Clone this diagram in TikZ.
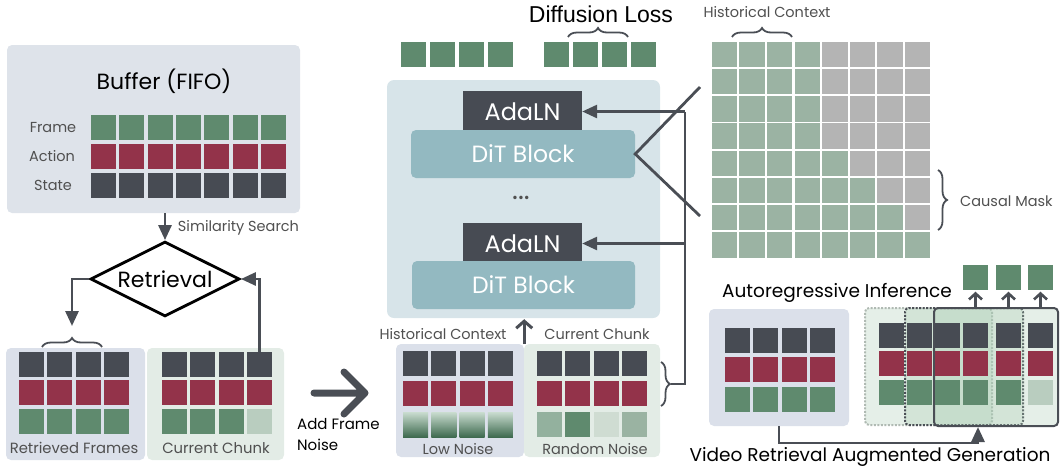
\documentclass[tikz,border=0pt]{standalone}
\usepackage{fontspec}
\setmainfont{Poppins}
\newfontfamily\lossfont{Liberation Sans}
\usetikzlibrary{shapes.geometric,arrows.meta,decorations.pathreplacing}
\definecolor{cframe}{HTML}{5F8A6E}
\definecolor{cact}{HTML}{93334A}
\definecolor{cstate}{HTML}{474B53}
\definecolor{cmask}{HTML}{9BB3A3}
\definecolor{cgray}{HTML}{B4B4B4}
\definecolor{cpale}{HTML}{B9CDBF}
\definecolor{cbuf}{HTML}{DEE3EA}
\definecolor{cret}{HTML}{DBE0EA}
\definecolor{ccur}{HTML}{E3ECE6}
\definecolor{cdit}{HTML}{D7E4E9}
\definecolor{cblock}{HTML}{93B9C1}
\definecolor{cwire}{HTML}{4A4E55}
\definecolor{clab}{HTML}{505050}
\definecolor{cgtop}{HTML}{CADDD0}
\definecolor{cgbot}{HTML}{3E6A4F}
\definecolor{crnA}{HTML}{93B19E}
\definecolor{crnB}{HTML}{CFDCD2}
\definecolor{crnC}{HTML}{9AB3A2}
\definecolor{cwin}{HTML}{A9CBB2}
\definecolor{cdotl}{HTML}{B0BAB3}
\begin{document}
\begin{tikzpicture}[x=1pt,y=-1pt]
    \useasboundingbox (0,0) rectangle (1060,469);
    \tikzstyle{tok}=[rectangle, minimum size=25pt, inner sep=0pt]
    \tikzstyle{cell}=[rectangle, minimum size=25.5pt, inner sep=0pt]
    \tikzstyle{panel}=[rectangle, rounded corners=5pt, inner sep=0pt]
    \tikzstyle{lab}=[text=clab, inner sep=0pt, font=\fontsize{14.5}{17}\selectfont]
    \tikzstyle{title}=[inner sep=0pt, font=\fontsize{22}{26}\selectfont]
    \tikzstyle{wire}=[draw=cwire, line width=2.8pt]
    \tikzstyle{arr}=[wire, -{Triangle[length=15pt,width=13pt]}]
    \tikzstyle{barb}=[wire, line width=2.6pt, -{Straight Barb[length=6pt,width=13pt]}]
    \tikzstyle{brc}=[draw=cwire, line width=1.8pt, decorate, decoration={brace, amplitude=9pt}]
    \tikzstyle{win}=[rectangle, rounded corners=4pt, minimum height=117pt, fill=cwin, fill opacity=0.3, line width=2pt]

    % buffer
    \node[panel, fill=cbuf, minimum width=293pt, minimum height=168pt] (N01) at (153.5,129) {};
    \node[title] (T01) at (164,81) {Buffer (FIFO)};
    \node[lab] (L01) at (53,127.5) {Frame};
    \node[lab] (L02) at (52,156.5) {Action};
    \node[lab] (L03) at (53,185.5) {State};
    \foreach \i in {0,...,6} {
        \node[tok, fill=cframe] (Bf\i) at (103.5+28.3*\i,127.5) {};
        \node[tok, fill=cact] (Ba\i) at (103.5+28.3*\i,156.5) {};
        \node[tok, fill=cstate] (Bs\i) at (103.5+28.3*\i,185.5) {};
    }

    % retrieval
    \node[diamond, draw, line width=2.8pt, aspect=2, inner sep=0pt, minimum width=149pt, minimum height=75pt, font=\fontsize{22}{26}\selectfont] (N02) at (165,279) {Retrieval};
    \draw[arr] (N02.north |- N01.south) -- (N02.north);
    \node[lab] (L04) at (238.5,228) {Similarity Search};

    % retrieved frames and current chunk
    \node[panel, fill=cret, minimum width=139pt, minimum height=112pt] (N03) at (75.5,404) {};
    \node[panel, fill=ccur, minimum width=137pt, minimum height=112pt] (N04) at (215.5,404) {};
    \foreach \i in {0,...,3} {
        \node[tok, fill=cstate] (Rs\i) at (31.5+28.3*\i,364.5) {};
        \node[tok, fill=cact] (Ra\i) at (31.5+28.3*\i,392.5) {};
        \node[tok, fill=cframe] (Rf\i) at (31.5+28.3*\i,421.5) {};
        \node[tok, fill=cstate] (Cs\i) at (174.5+28.3*\i,364.5) {};
        \node[tok, fill=cact] (Ca\i) at (174.5+28.3*\i,392.5) {};
    }
    \foreach \i in {0,...,2}
        \node[tok, fill=cframe] (Cf\i) at (174.5+28.3*\i,421.5) {};
    \node[tok, fill=cpale] (Cf3) at (259.4,421.5) {};
    \node[lab, font=\fontsize{14.8}{17}\selectfont] (L05) at (74,448) {Retrieved Frames};
    \node[lab, font=\fontsize{14.8}{17}\selectfont] (L06) at (216,448) {Current Chunk};
    \draw[brc] (42,347) -- (102,347);
    \coordinate (P01) at (72,326);
    \draw[arr] (N02.west) -| (P01);
    \draw[arr] (Cs3.north) |- (N02.east);

    % add frame noise
    \coordinate (P02) at (314,393);
    \coordinate (P03) at (365,393);
    \draw[cwire, line width=7pt, line cap=round, line join=round] (P02) -- (P03) (344,372) -- (P03) -- (344,414);
    \node[align=left, anchor=north west, inner sep=0pt, font=\fontsize{15}{21}\selectfont] (L07) at (297,418) {Add Frame\\Noise};

    % noisy inputs
    \node[panel, fill=cret, minimum width=128pt, minimum height=113pt] (N05) at (460,400.5) {};
    \node[panel, fill=ccur, minimum width=136pt, minimum height=113pt] (N06) at (592,400.5) {};
    \foreach \i/\cl in {0/crnA,1/cframe,2/crnB,3/crnC} {
        \node[tok, fill=cstate] (Ls\i) at (415.5+28.3*\i,363.5) {};
        \node[tok, fill=cact] (La\i) at (415.5+28.3*\i,393.5) {};
        \node[tok, top color=cgtop, bottom color=cgbot] (Lf\i) at (415.5+28.3*\i,424.5) {};
        \node[tok, fill=cstate] (Ns\i) at (549.5+28.3*\i,363.5) {};
        \node[tok, fill=cact] (Na\i) at (549.5+28.3*\i,393.5) {};
        \node[tok, fill=\cl] (Nf\i) at (549.5+28.3*\i,424.5) {};
    }
    \node[lab] (L08) at (458,449) {Low Noise};
    \node[lab] (L09) at (595,449) {Random Noise};
    \node[lab] (L10) at (443,334) {Historical Context};
    \node[lab] (L11) at (597,334) {Current Chunk};

    % DiT stack
    \node[panel, rounded corners=7pt, fill=cdit, minimum width=273pt, minimum height=238pt] (N07) at (523.5,199) {};
    \node[rectangle, fill=cstate, text=white, minimum width=119pt, minimum height=41pt, inner sep=0pt, font=\fontsize{24}{28}\selectfont] (A1) at (522.5,111.5) {\raisebox{-2pt}{AdaLN}};
    \node[panel, fill=cblock, text=white, minimum width=224pt, minimum height=48pt, font=\fontsize{23.5}{28}\selectfont] (D1) at (523,154) {DiT Block};
    \node[font=\fontsize{28}{30}\selectfont, text=clab, inner sep=0pt] (E1) at (521,198) {...};
    \node[rectangle, fill=cstate, text=white, minimum width=119pt, minimum height=41pt, inner sep=0pt, font=\fontsize{24}{28}\selectfont] (A2) at (522.5,243.5) {\raisebox{-2pt}{AdaLN}};
    \node[panel, fill=cblock, text=white, minimum width=223pt, minimum height=48pt, font=\fontsize{23.5}{28}\selectfont] (D2) at (523.5,285) {DiT Block};
    \draw[barb, line width=3pt, -{Straight Barb[length=7pt,width=16pt]}, shorten >=1pt] (N05.north east) -- (N05.north east |- N07.south);

    % diffusion loss tokens
    \foreach \i in {0,...,3} {
        \node[tok, fill=cframe] (U\i) at (413.5+29*\i,54.5) {};
        \node[tok, fill=cframe] (V\i) at (556.5+29*\i,54.5) {};
    }
    \draw[brc] (568,37) -- (628,37);
    \node[inner sep=0pt, font=\lossfont\fontsize{23}{26}\selectfont] (T02) at (601,14) {Diffusion Loss};

    % condition wires
    \draw[brc] (661,362) -- (661,406);
    \coordinate (K0) at (671,384);
    \coordinate (K1) at (685,384);
    \draw[wire] (K0) -- (K1) -- (K1 |- A1.east);
    \draw[arr] (K1 |- A1.east) -- (A1.east);
    \draw[arr] (K1 |- A2.east) -- (A2.east);
    \coordinate (V1) at (700,87);
    \coordinate (V2) at (700,216);
    \draw[wire, line join=miter] (V1) -- (D1.east) -- (V2);

    % causal mask
    \foreach \r in {0,...,7}
        \foreach \c in {0,...,7} {
            \pgfmathtruncatemacro{\g}{(\c<4)||(\c<=\r)}
            \ifnum\g=1 \def\mc{cmask}\else\def\mc{cgray}\fi
            \node[cell, fill=\mc] (M\r\c) at (724.5+27.6*\c,54.5+27.2*\r) {};
        }
    \draw[brc] (732,37) -- (792,37);
    \node[lab] (L12) at (767,12) {Historical Context};
    \draw[brc] (938,170) -- (938,230);
    \node[lab, anchor=west] (L13) at (960,201) {Causal Mask};

    % autoregressive inference
    \node[title, font=\fontsize{18.5}{22}\selectfont] (T03) at (837,293) {Autoregressive Inference};
    \node[panel, fill=cret, minimum width=140pt, minimum height=117pt] (N08) at (779,367.5) {};
    \foreach \i in {0,...,3} {
        \node[tok, fill=cstate] (As\i) at (737.5+28.3*\i,340.5) {};
        \node[tok, fill=cact] (Aa\i) at (737.5+28.3*\i,369.5) {};
        \node[tok, fill=cframe] (Af\i) at (737.5+28.3*\i,399.5) {};
    }
    \node[win, draw=cdotl, dash pattern=on 2pt off 1.5pt, minimum width=127pt] (W1) at (928.5,366.5) {};
    \node[win, draw=cwire, dash pattern=on 2pt off 1.5pt, minimum width=118pt] (W2) at (964,366.5) {};
    \node[win, draw=cwire, minimum width=124pt, minimum height=118pt] (W3) at (996,367) {};
    \foreach \i/\x in {1/891.5,2/919.5,3/947.5,4/975.5,5/1008.5,6/1040.5} {
        \node[tok, fill=cstate] (Gs\i) at (\x,335) {};
        \node[tok, fill=cact] (Ga\i) at (\x,363.5) {};
    }
    \foreach \i/\x in {1/891.5,2/919.5,3/947.5,4/975.5,5/1008.5}
        \node[tok, fill=cframe] (Gf\i) at (\x,392.5) {};
    \node[tok, fill=cpale] (Gf6) at (1040.5,392.5) {};
    \foreach \i/\x in {1/975.5,2/1008.5,3/1040.5} {
        \node[tok, fill=cframe] (O\i) at (\x,277) {};
        \draw[barb, shorten >=2pt] (O\i |- W3.north) -- (O\i.south);
    }
    \coordinate (P04) at (978,443);
    \draw[arr] (N08.south) |- (P04) -- (P04 |- W3.south);
    \node[title, font=\fontsize{18.5}{22}\selectfont] (T04) at (870,457) {Video Retrieval Augmented Generation};
\end{tikzpicture}
\end{document}
